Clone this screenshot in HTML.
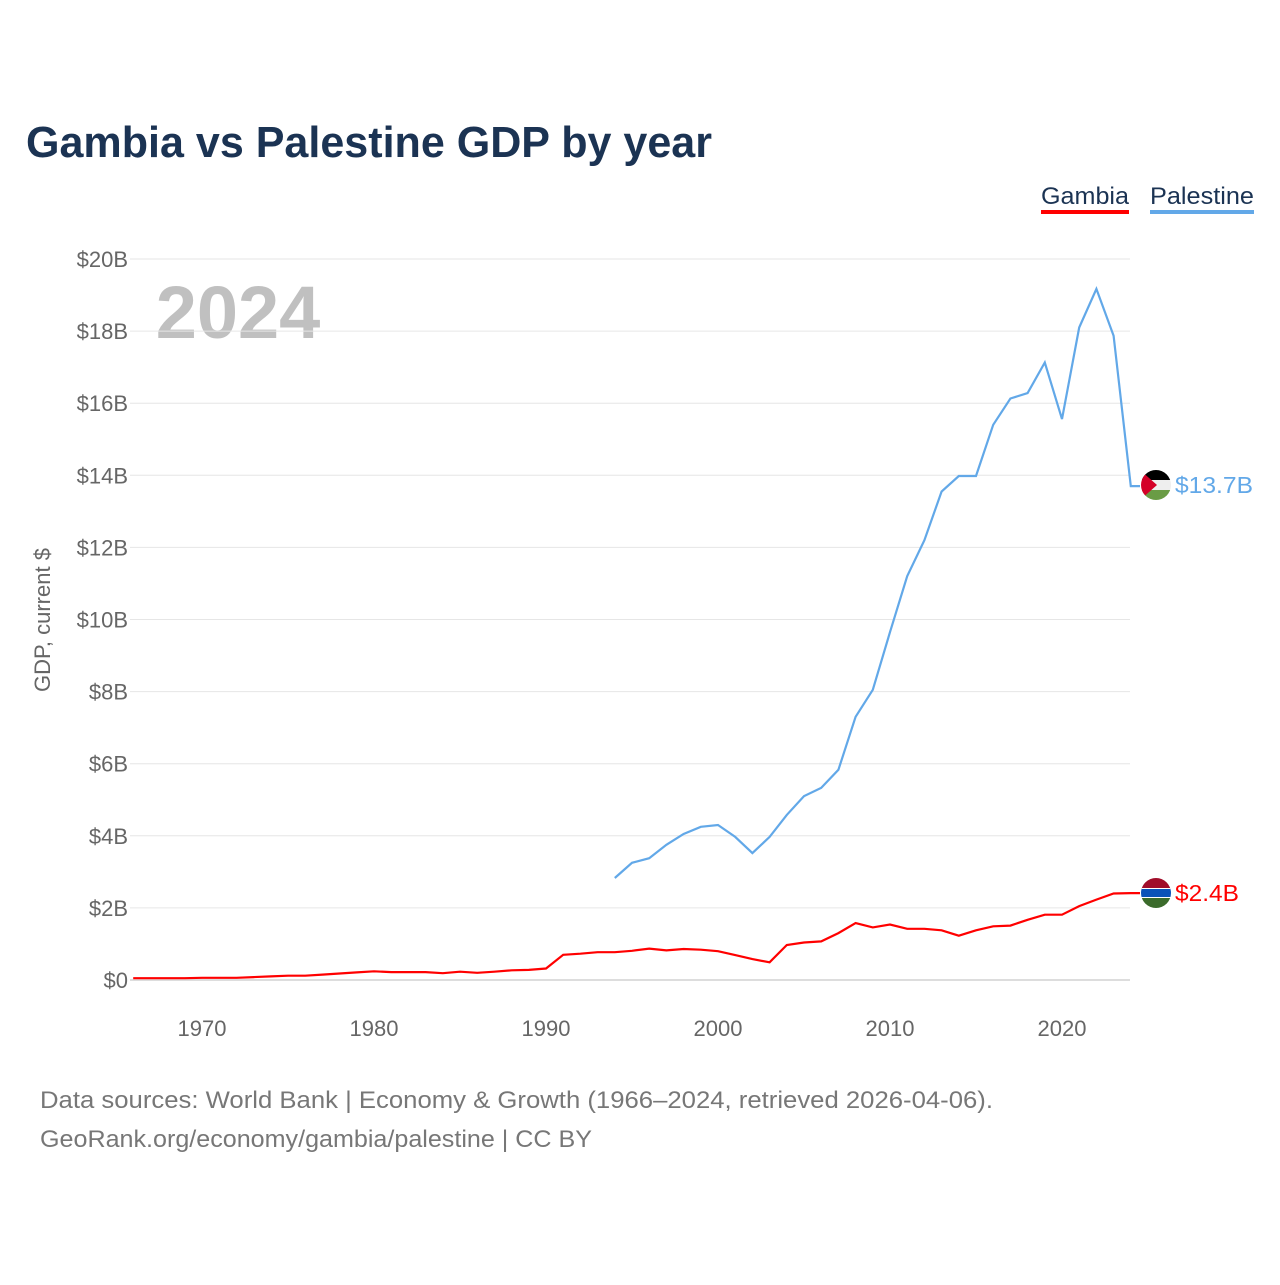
<!DOCTYPE html>
<html><head><meta charset="utf-8"><style>
body{margin:0;background:#fff;width:1280px;height:1280px;overflow:hidden;font-family:"Liberation Sans",sans-serif}
</style></head><body>
<svg width="1280" height="1280" xmlns="http://www.w3.org/2000/svg">
<text x="26" y="157" font-size="44" font-weight="bold" fill="#1b3353" textLength="686" lengthAdjust="spacingAndGlyphs">Gambia vs Palestine GDP by year</text>
<g>
<text x="1041" y="204" font-size="24" fill="#1b3353" textLength="88" lengthAdjust="spacingAndGlyphs">Gambia</text>
<rect x="1041" y="210" width="88" height="4" fill="#ff0000"/>
<text x="1150" y="204" font-size="24" fill="#1b3353" textLength="104" lengthAdjust="spacingAndGlyphs">Palestine</text>
<rect x="1150" y="210" width="104" height="4" fill="#62a8e8"/>
</g>
<text x="238" y="338" font-size="74" font-weight="bold" fill="#c0c0c0" text-anchor="middle">2024</text>
<text transform="translate(50,620) rotate(-90)" font-size="22" fill="#666" text-anchor="middle">GDP, current $</text>
<g id="grid"></g><g id="xt"></g><g id="lines"></g>
<g>
<clipPath id="cp"><circle cx="1156" cy="485" r="15"/></clipPath>
<g clip-path="url(#cp)"><rect x="1140" y="470" width="32" height="10" fill="#000"/><rect x="1140" y="480" width="32" height="10" fill="#eee"/><rect x="1140" y="490" width="32" height="10" fill="#6a9c45"/><polygon points="1140,470 1157,485 1140,500" fill="#d40028"/></g>
<text x="1175" y="493" font-size="23" fill="#62a8e8" textLength="78" lengthAdjust="spacingAndGlyphs">$13.7B</text>
</g>
<g>
<clipPath id="cg"><circle cx="1156" cy="893" r="15"/></clipPath>
<g clip-path="url(#cg)"><rect x="1140" y="878" width="32" height="11" fill="#a10d2a"/><rect x="1140" y="888" width="32" height="10" fill="#fff"/><rect x="1140" y="889" width="32" height="8" fill="#0a52b8"/><rect x="1140" y="898" width="32" height="10" fill="#3b6b2b"/></g>
<text x="1175" y="901" font-size="23" fill="#ff0000" textLength="64" lengthAdjust="spacingAndGlyphs">$2.4B</text>
</g>
<text x="40" y="1108" font-size="24" fill="#777" textLength="953" lengthAdjust="spacingAndGlyphs">Data sources: World Bank | Economy &amp; Growth (1966–2024, retrieved 2026-04-06).</text>
<text x="40" y="1147" font-size="24" fill="#777" textLength="552" lengthAdjust="spacingAndGlyphs">GeoRank.org/economy/gambia/palestine | CC BY</text>
</svg>
<script>
const yTicks=[0,2,4,6,8,10,12,14,16,18,20];
const yTickLabels=["$0","$2B","$4B","$6B","$8B","$10B","$12B","$14B","$16B","$18B","$20B"];
const xTicks=[1970,1980,1990,2000,2010,2020];
const gambiaStart=1966;
const gambiaValues=[0.05,0.05,0.05,0.05,0.06,0.06,0.06,0.08,0.1,0.12,0.12,0.15,0.18,0.21,0.24,0.22,0.22,0.22,0.19,0.23,0.2,0.23,0.27,0.28,0.32,0.7,0.73,0.77,0.77,0.81,0.87,0.82,0.86,0.84,0.8,0.69,0.58,0.49,0.97,1.04,1.07,1.3,1.58,1.46,1.54,1.42,1.42,1.38,1.23,1.38,1.49,1.51,1.67,1.81,1.81,2.05,2.23,2.4,2.41];
const palestineStart=1994;
const palestineValues=[2.83,3.25,3.38,3.75,4.05,4.25,4.3,3.97,3.52,3.97,4.58,5.1,5.33,5.83,7.3,8.05,9.65,11.2,12.2,13.55,13.98,13.98,15.4,16.13,16.28,17.13,15.56,18.1,19.17,17.87,13.7];
const NS="http://www.w3.org/2000/svg";
const X=y=>133.2+(y-1966)*17.2;
const Y=v=>980-v*36.05;
const grid=document.getElementById('grid'),xt=document.getElementById('xt'),lines=document.getElementById('lines');
yTicks.forEach((t,i)=>{
 const l=document.createElementNS(NS,'line');
 l.setAttribute('x1',130);l.setAttribute('x2',1130);l.setAttribute('y1',Y(t));l.setAttribute('y2',Y(t));
 l.setAttribute('stroke',t===0?'#ddd':'#e6e6e6');l.setAttribute('stroke-width',t===0?2:1);
 
 
 grid.appendChild(l);
 const s=document.createElementNS(NS,'text');
 s.setAttribute('x',128);s.setAttribute('y',Y(t)+8);s.setAttribute('text-anchor','end');
 s.setAttribute('font-size','22');s.setAttribute('fill','#666');s.textContent=yTickLabels[i];
 
 
 grid.appendChild(s);
});
xTicks.forEach(t=>{
 const s=document.createElementNS(NS,'text');
 s.setAttribute('x',X(t));s.setAttribute('y',1036);s.setAttribute('text-anchor','middle');
 s.setAttribute('font-size','22');s.setAttribute('fill','#666');s.textContent=t;
 
 
 xt.appendChild(s);
});
function series(start,vals,color,name){
 const p=document.createElementNS(NS,'polyline');
 const pts=vals.map((v,i)=>X(start+i).toFixed(1)+','+Y(v).toFixed(1));
 const last=vals[vals.length-1];
 pts.push('1140,'+Y(last).toFixed(1));
 p.setAttribute('points',pts.join(' '));
 p.setAttribute('fill','none');p.setAttribute('stroke',color);p.setAttribute('stroke-width','2.2');
 
 
 lines.appendChild(p);
}
series(palestineStart,palestineValues,'#62a8e8','palestine-line');
series(gambiaStart,gambiaValues,'#ff0000','gambia-line');
</script>
</body></html>
